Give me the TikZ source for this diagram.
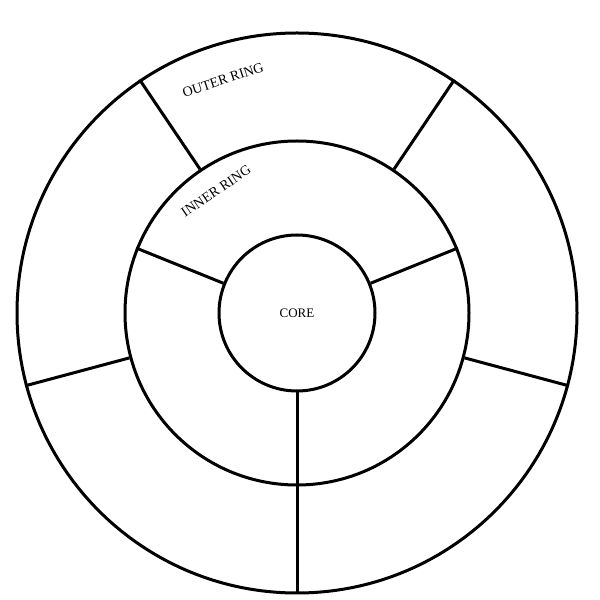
\documentclass[tikz,border=0pt]{standalone}
\usepackage{fontspec}
\setmainfont{Liberation Serif}
\begin{document}
\begin{tikzpicture}[x=1pt,y=1pt,line width=3pt,
  ringlbl/.style={font=\fontsize{14}{15}\selectfont,inner sep=0pt}]
\useasboundingbox (0,0) rectangle (600,600);
\coordinate (c) at (297,287);
\node[draw,circle,minimum size=156pt,inner sep=0pt] (core) at (c) {\fontsize{13}{14}\selectfont CORE};
\node[draw,circle,minimum size=344pt,inner sep=0pt] (inner) at (c) {};
\node[draw,circle,minimum size=560pt,inner sep=0pt] (outer) at (c) {};
% inner spokes
\draw (core.158) -- (inner.158);
\draw (core.22) -- (inner.22);
\draw (core.270) -- (outer.270);
% outer spokes
\draw (inner.124) -- (outer.124);
\draw (inner.56) -- (outer.56);
\draw (inner.195) -- (outer.195);
\draw (inner.345) -- (outer.345);
\node[ringlbl,rotate=18] (ol) at (223,520) {OUTER RING};
\node[ringlbl,rotate=34] (il) at (216,409) {INNER RING};
\end{tikzpicture}
\end{document}
